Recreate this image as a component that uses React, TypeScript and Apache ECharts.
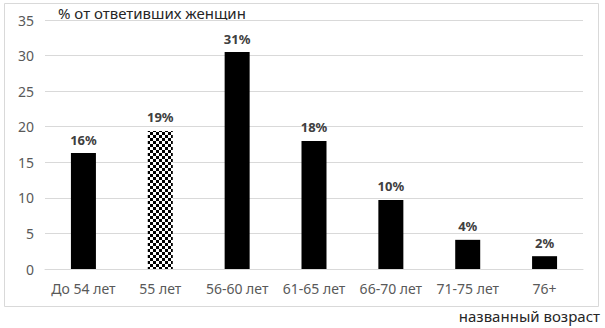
import React, { useEffect, useRef } from "react";
import * as echarts from "echarts";

const categories = ["До 54 лет", "55 лет", "56-60 лет", "61-65 лет", "66-70 лет", "71-75 лет", "76+"];
const values = [16.3, 19.4, 30.5, 18.0, 9.7, 4.1, 1.8];
const labels = ["16%", "19%", "31%", "18%", "10%", "4%", "2%"];
const checkeredIndex = 1;
const yTicks = { min: 0, max: 35, interval: 5 };

function makeChecker(): HTMLCanvasElement {
  const c = document.createElement("canvas");
  const s = 3;
  c.width = s * 2;
  c.height = s * 2;
  const ctx = c.getContext("2d")!;
  ctx.fillStyle = "#ffffff";
  ctx.fillRect(0, 0, s * 2, s * 2);
  ctx.fillStyle = "#000000";
  ctx.fillRect(0, 0, s, s);
  ctx.fillRect(s, s, s, s);
  return c;
}

export default function App() {
  const ref = useRef<HTMLDivElement>(null);
  useEffect(() => {
    if (!ref.current) return;
    const chart = echarts.init(ref.current, null, { renderer: "svg" });
    const checker = makeChecker();
    const font = "'Noto Sans', 'Open Sans', sans-serif";
    chart.setOption({
      animation: false,
      backgroundColor: "#ffffff",
      grid: { left: 45, right: 22, top: 20, bottom: 59, containLabel: false },
      xAxis: {
        type: "category",
        data: categories,
        axisLine: { show: true, lineStyle: { color: "#d9d9d9" } },
        axisTick: { show: false },
        axisLabel: { color: "#595959", fontSize: 14, fontFamily: font, margin: 12, interval: 0 },
      },
      yAxis: {
        type: "value",
        min: yTicks.min,
        max: yTicks.max,
        interval: yTicks.interval,
        axisLine: { show: false },
        axisTick: { show: false },
        splitLine: { lineStyle: { color: "#d9d9d9", width: 1 } },
        axisLabel: { color: "#595959", fontSize: 14, fontFamily: font, margin: 11 },
      },
      graphic: [
        {
          type: "rect",
          shape: { x: 4.5, y: 3.5, width: 594, height: 303 },
          style: { fill: "none", stroke: "#d9d9d9", lineWidth: 1 },
          silent: true,
          z: -1,
        },
        {
          type: "text",
          left: 58,
          top: 5,
          style: { text: "% от ответивших женщин", fill: "#262626", font: `15px ${font}` },
        },
        {
          type: "text",
          right: 5,
          top: 308,
          style: { text: "названный возраст", fill: "#262626", font: `15px ${font}` },
        },
      ],
      series: [
        {
          type: "bar",
          barWidth: 25,
          data: values.map((v, i) => ({
            value: v,
            itemStyle:
              i === checkeredIndex
                ? { color: { image: checker, repeat: "repeat" } }
                : { color: "#000000" },
          })),
          label: {
            show: true,
            position: "top",
            distance: 7,
            color: "#404040",
            fontWeight: "bold",
            fontSize: 13,
            fontFamily: font,
            formatter: (p: any) => labels[p.dataIndex],
          },
        },
      ],
    });
    return () => chart.dispose();
  }, []);
  return (
    <div
      ref={ref}
      style={{ position: "absolute", left: 0, top: 0, width: 605, height: 328 }}
    />
  );
}
